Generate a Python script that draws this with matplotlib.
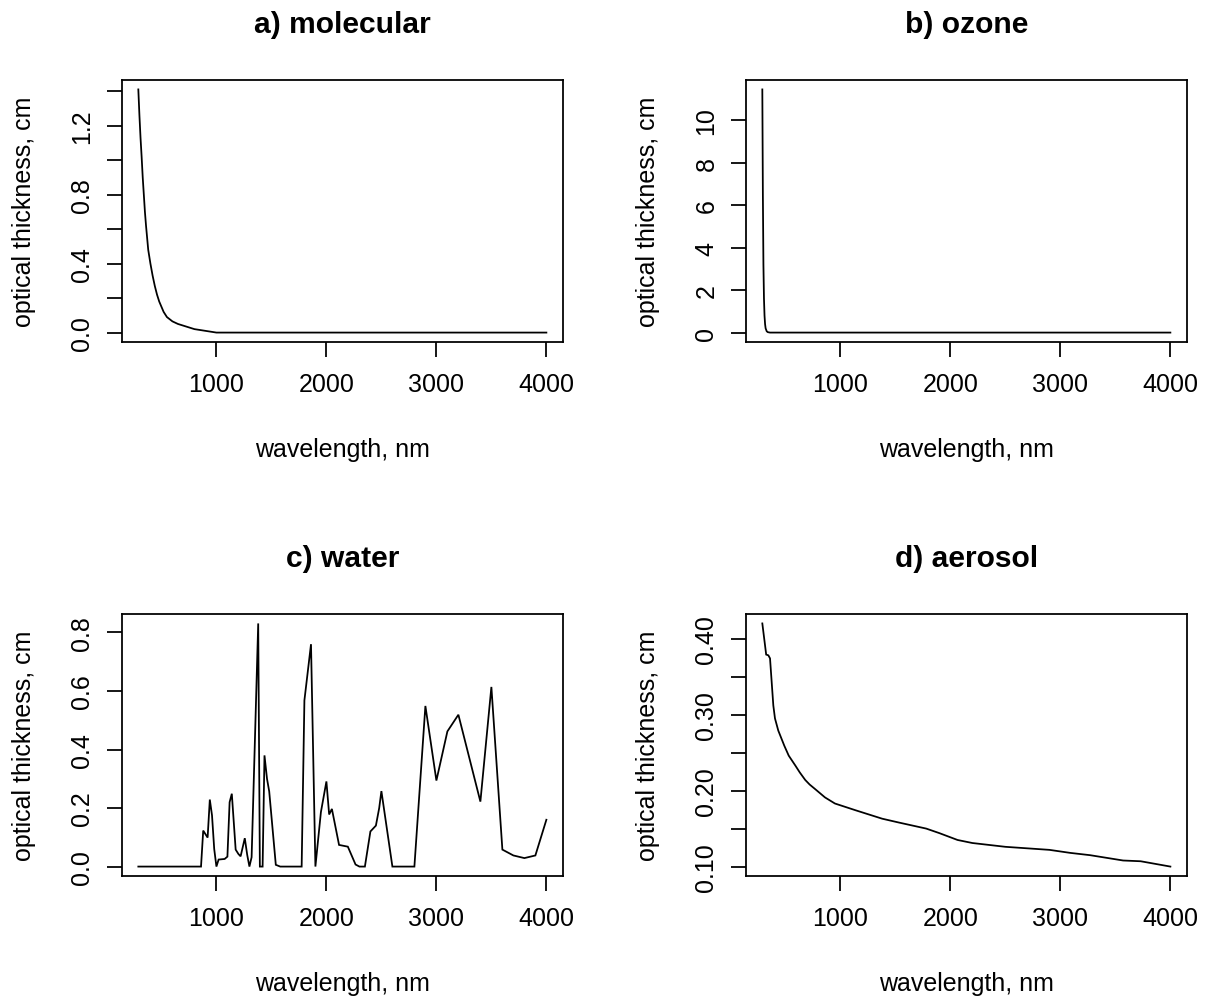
import matplotlib
matplotlib.use("Agg")
import matplotlib.pyplot as plt

# ---------------- data ----------------
mol_wl = [290, 300, 310, 320, 330, 340, 350, 360, 370, 380, 400, 420, 440, 460,
          480, 500, 520, 550, 580, 600, 650, 700, 750, 800, 850, 900, 950, 1000, 4000]
mol_tau = [1.41, 1.26, 1.13, 1.02, 0.90, 0.80, 0.70, 0.62, 0.55, 0.48, 0.40, 0.33,
           0.27, 0.22, 0.18, 0.15, 0.12, 0.09, 0.075, 0.065, 0.05, 0.04, 0.03,
           0.02, 0.015, 0.01, 0.005, 0.0, 0.0]

oz_wl = [290, 295, 300, 305, 310, 315, 320, 330, 340, 360, 4000]
oz_tau = [11.45, 6.5, 3.2, 1.6, 0.8, 0.4, 0.2, 0.06, 0.02, 0.0, 0.0]

h2o_wl = [290, 860, 880, 920, 940, 960, 980, 1000, 1020, 1075, 1100, 1120, 1140,
          1175, 1200, 1220, 1258, 1280, 1300, 1320, 1380, 1395, 1420, 1437, 1460,
          1480, 1540, 1580, 1775, 1800, 1860, 1900, 1950, 2000, 2025, 2050, 2115,
          2195, 2265, 2300, 2350, 2400, 2450, 2480, 2500, 2600, 2800, 2900, 3000,
          3100, 3200, 3400, 3500, 3600, 3700, 3800, 3900, 4000]
h2o_tau = [0.0, 0.0, 0.123, 0.099, 0.229, 0.175, 0.06, 0.0, 0.024, 0.026, 0.034,
           0.22, 0.249, 0.058, 0.043, 0.035, 0.097, 0.04, 0.0, 0.032, 0.831, 0.0,
           0.0, 0.38, 0.30, 0.257, 0.006, 0.0, 0.0, 0.568, 0.76, 0.0, 0.186, 0.291,
           0.178, 0.197, 0.074, 0.068, 0.007, 0.0, 0.0, 0.12, 0.14, 0.2, 0.258,
           0.0, 0.0, 0.549, 0.294, 0.462, 0.519, 0.222, 0.614, 0.058, 0.038,
           0.029, 0.038, 0.16]

aer_wl = [290, 325, 345, 360, 375, 390, 405, 435, 490, 530, 590, 630, 680, 720,
          770, 860, 950, 1140, 1380, 1530, 1780, 1900, 2065, 2200, 2500, 2900,
          3090, 3270, 3570, 3730, 4000]
aer_tau = [0.420, 0.379, 0.378, 0.374, 0.343, 0.312, 0.295, 0.279, 0.259, 0.246,
           0.233, 0.224, 0.214, 0.208, 0.202, 0.191, 0.183, 0.174, 0.163, 0.158,
           0.150, 0.144, 0.135, 0.131, 0.126, 0.122, 0.118, 0.115, 0.108, 0.107,
           0.100]

titles = ["a) molecular", "b) ozone", "c) water", "d) aerosol"]
x_ticks = [1000, 2000, 3000, 4000]
x_ticklabels = ["1000", "2000", "3000", "4000"]
y_ticks = [[0.0, 0.2, 0.4, 0.6, 0.8, 1.0, 1.2, 1.4],
           [0, 2, 4, 6, 8, 10],
           [0.0, 0.2, 0.4, 0.6, 0.8],
           [0.10, 0.15, 0.20, 0.25, 0.30, 0.35, 0.40]]
y_ticklabels = [["0.0", "", "0.4", "", "0.8", "", "1.2", ""],
                ["0", "2", "4", "6", "8", "10"],
                ["0.0", "0.2", "0.4", "0.6", "0.8"],
                ["0.10", "", "0.20", "", "0.30", "", "0.40"]]
xlab = "wavelength, nm"
ylab = "optical thickness, cm"

# ---------------- figure ----------------
plt.rcParams['font.family'] = ['Liberation Sans', 'DejaVu Sans']
W, H, DPI = 1207, 1001, 150
fig = plt.figure(figsize=(W / DPI, H / DPI), dpi=DPI)

# boxes in pixels: left, top, right, bottom
boxes = [(122, 80.7, 562.7, 343.3), (746, 80.7, 1186.7, 343.3),
         (122, 614.7, 562.7, 877.3), (746, 614.7, 1186.7, 877.3)]
series = [(mol_wl, mol_tau), (oz_wl, oz_tau), (h2o_wl, h2o_tau), (aer_wl, aer_tau)]

LW = 0.85
for i, (box, (xs, ys)) in enumerate(zip(boxes, series)):
    l, t, r, b = box
    ax = fig.add_axes([l / W, 1 - b / H, (r - l) / W, (b - t) / H])
    ax.plot(xs, ys, color='black', lw=LW, solid_joinstyle='miter')
    xr = max(xs) - min(xs)
    yr = max(ys) - min(ys)
    ax.set_xlim(min(xs) - 0.04 * xr, max(xs) + 0.04 * xr)
    ax.set_ylim(min(ys) - 0.04 * yr, max(ys) + 0.04 * yr)
    ax.set_xticks(x_ticks)
    ax.set_xticklabels(x_ticklabels)
    ax.set_yticks(y_ticks[i])
    ax.set_yticklabels(y_ticklabels[i])
    for sp in ax.spines.values():
        sp.set_linewidth(LW)
    ax.tick_params(axis='both', direction='out', length=7.2, width=LW,
                   labelsize=12, colors='black')
    ax.tick_params(axis='x', pad=7.0)
    ax.tick_params(axis='y', pad=6.0, labelrotation=90)
    for lab in ax.get_yticklabels():
        lab.set_verticalalignment('center')
    # title
    ax.annotate(titles[i], xy=(0.5, 1), xycoords='axes fraction',
                xytext=(0, 23), textcoords='offset points',
                ha='center', va='baseline', fontsize=14.4, fontweight='bold')
    # x label
    ax.annotate(xlab, xy=(0.5, 0), xycoords='axes fraction',
                xytext=(0, -54.5), textcoords='offset points',
                ha='center', va='baseline', fontsize=12)
    # y label
    ax.annotate(ylab, xy=(0, 0.5), xycoords='axes fraction',
                xytext=(-47, 0), textcoords='offset points',
                ha='center', va='center', rotation=90, fontsize=12)

fig.savefig("out.png", dpi=DPI)
